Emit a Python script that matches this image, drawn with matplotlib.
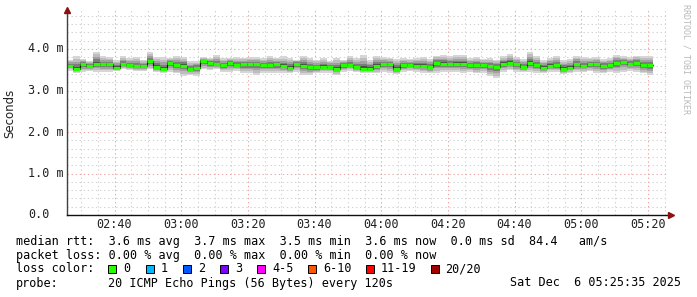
import numpy as np
import matplotlib
matplotlib.use("Agg")
import matplotlib.pyplot as plt
from matplotlib.lines import Line2D
from matplotlib.patches import Rectangle
from matplotlib.transforms import blended_transform_factory

# -- data: 2 min steps, values in ms --
med = [3.60, 3.52, 3.63, 3.59, 3.65, 3.63, 3.63, 3.55, 3.64, 3.61,
       3.59, 3.59, 3.71, 3.57, 3.52, 3.66, 3.61, 3.60, 3.52, 3.55,
       3.71, 3.66, 3.63, 3.61, 3.66, 3.61, 3.63, 3.63, 3.63, 3.61,
       3.61, 3.63, 3.59, 3.55, 3.65, 3.60, 3.56, 3.56, 3.57, 3.57,
       3.53, 3.61, 3.61, 3.56, 3.53, 3.53, 3.59, 3.64, 3.64, 3.52,
       3.61, 3.61, 3.60, 3.60, 3.57, 3.66, 3.65, 3.64, 3.64, 3.64,
       3.61, 3.61, 3.61, 3.59, 3.57, 3.65, 3.67, 3.63, 3.57, 3.67,
       3.61, 3.55, 3.60, 3.61, 3.53, 3.55, 3.63, 3.59, 3.63, 3.63,
       3.59, 3.61, 3.66, 3.69, 3.65, 3.66, 3.61, 3.61]
smoke_hi = [3.74, 3.83, 3.76, 3.72, 3.93, 3.82, 3.81, 3.74, 3.82, 3.78,
            3.80, 3.74, 3.92, 3.80, 3.80, 3.78, 3.82, 3.81, 3.70, 3.70,
            3.80, 3.78, 3.85, 3.78, 3.78, 3.81, 3.78, 3.81, 3.80, 3.78,
            3.82, 3.78, 3.82, 3.78, 3.74, 3.82, 3.78, 3.74, 3.78, 3.72,
            3.78, 3.74, 3.82, 3.78, 3.85, 3.74, 3.84, 3.80, 3.78, 3.76,
            3.78, 3.76, 3.78, 3.80, 3.76, 3.84, 3.86, 3.82, 3.86, 3.86,
            3.78, 3.80, 3.76, 3.78, 3.74, 3.82, 3.88, 3.80, 3.76, 3.93,
            3.84, 3.74, 3.78, 3.82, 3.74, 3.76, 3.84, 3.80, 3.78, 3.80,
            3.76, 3.78, 3.86, 3.82, 3.80, 3.84, 3.84, 3.84]
smoke_lo = [3.48, 3.42, 3.45, 3.48, 3.45, 3.45, 3.45, 3.48, 3.51, 3.49,
            3.48, 3.48, 3.51, 3.45, 3.43, 3.45, 3.41, 3.35, 3.37, 3.35,
            3.51, 3.49, 3.51, 3.45, 3.45, 3.48, 3.41, 3.41, 3.37, 3.43,
            3.43, 3.41, 3.43, 3.41, 3.45, 3.37, 3.37, 3.41, 3.43, 3.43,
            3.37, 3.45, 3.48, 3.45, 3.41, 3.41, 3.41, 3.45, 3.43, 3.40,
            3.45, 3.47, 3.45, 3.43, 3.41, 3.43, 3.45, 3.45, 3.45, 3.43,
            3.45, 3.41, 3.43, 3.35, 3.30, 3.45, 3.49, 3.45, 3.45, 3.45,
            3.43, 3.41, 3.45, 3.45, 3.39, 3.43, 3.45, 3.45, 3.47, 3.43,
            3.41, 3.45, 3.43, 3.45, 3.47, 3.45, 3.41, 3.37]

# time in minutes after 02:00
t_start = 25 + 35 / 60          # 02:25:35
t_end = t_start + 180           # 05:25:35
step_min = 2
tick_minutes = [40, 60, 80, 100, 120, 140, 160, 180, 200]
tick_labels = ["02:40", "03:00", "03:20", "03:40", "04:00", "04:20", "04:40", "05:00", "05:20"]
y_ticks = [0, 1, 2, 3, 4]
y_labels = ["0.0", "1.0 m", "2.0 m", "3.0 m", "4.0 m"]

legend_lines = [
    "median rtt:  3.6 ms avg  3.7 ms max  3.5 ms min  3.6 ms now  0.0 ms sd  84.4   am/s",
    "packet loss: 0.00 % avg  0.00 % max  0.00 % min  0.00 % now",
]
loss_labels = ["0", "1", "2", "3", "4-5", "6-10", "11-19", "20/20"]
loss_colors = ["#26ff00", "#00b8ff", "#0059ff", "#7e00ff", "#ff00ff", "#ff5500", "#ff0000", "#a10000"]
probe_text = "20 ICMP Echo Pings (56 Bytes) every 120s"
date_text = "Sat Dec  6 05:25:35 2025"

W, H = 697, 297
MONO = "DejaVu Sans Mono"
FS = 8.5

def fx(x):
    return x / W

def fy(y):
    return 1 - y / H

fig = plt.figure(figsize=(W / 100, H / 100), dpi=100)
fig.patch.set_facecolor("white")
ax = fig.add_axes([fx(66.5), fy(215), 600 / W, 205 / H])
ax.set_xlim(t_start, t_end)
ax.set_ylim(0, 205 / 41.5)
for s in ax.spines.values():
    s.set_visible(False)
ax.set_xticks([])
ax.set_yticks([])

# grid
dots = (0, (1.3, 2.6))
for m in np.arange(30, 206, 5):
    if m not in tick_minutes:
        ax.axvline(m, color="#d2d2d2", lw=0.75, ls=dots, zorder=0)
for v in np.arange(0.2, 4.95, 0.2):
    if abs(v - round(v)) > 0.01:
        ax.axhline(v, color="#d2d2d2", lw=0.75, ls=dots, zorder=0)
for m in tick_minutes:
    ax.axvline(m, color="#eaa8a8", lw=0.75, ls=dots, zorder=0)
for v in y_ticks[1:]:
    ax.axhline(v, color="#eaa8a8", lw=0.75, ls=dots, zorder=0)

# smoke + median
n = len(med)
edges = t_start + step_min * np.arange(n + 1)
med_a = np.array(med + [med[-1]])
hi_a = np.array(smoke_hi + [smoke_hi[-1]])
lo_a = np.array(smoke_lo + [smoke_lo[-1]])
layers = [(1.0, "#d6d6d6"), (0.78, "#bdbdbd"), (0.56, "#a0a0a0"),
          (0.36, "#7c7c7c"), (0.16, "#4a4a4a")]
for f, c in layers:
    ax.fill_between(edges, med_a - (med_a - lo_a) * f, med_a + (hi_a - med_a) * f,
                    step="post", color=c, lw=0, zorder=2)
ax.step(edges, med_a, where="post", color="#101010", lw=0.8, zorder=3)
ax.hlines(med, edges[:-1], edges[1:], color="#26ff00", lw=2.3, zorder=4)

# axes lines and arrows
axis_col = "#404040"
arrow_col = "#8b1010"
fig.add_artist(Line2D([fx(66.5), fx(66.5)], [fy(215), fy(11)], color=axis_col, lw=1.0))
fig.add_artist(Line2D([fx(66.5), fx(669)], [fy(215), fy(215)], color="#101010", lw=1.0))
fig.add_artist(Line2D([fx(66.5)], [fy(10)], marker="^", ms=4, color=arrow_col, mec=arrow_col))
fig.add_artist(Line2D([fx(671)], [fy(215)], marker=">", ms=4, color=arrow_col, mec=arrow_col))

# tick labels
tr_x = blended_transform_factory(ax.transData, fig.transFigure)
for m, lab in zip(tick_minutes, tick_labels):
    ax.text(m, fy(224), lab, transform=tr_x, ha="center", va="center",
            family=MONO, fontsize=FS, color="#202020")
tr_y = blended_transform_factory(fig.transFigure, ax.transData)
for v, lab in zip(y_ticks, y_labels):
    ax.text(fx(28), v, lab, transform=tr_y, ha="left", va="center",
            family=MONO, fontsize=FS, color="#202020")

fig.text(fx(10), fy(113), "Seconds", rotation=90, ha="center", va="center",
         family="DejaVu Sans", fontsize=8.5, color="#202020")
fig.text(fx(686), fy(4), "RRDTOOL / TOBI OETIKER", rotation=270, ha="center", va="top",
         family=MONO, fontsize=6, color="#b8b8b8")

# legend block
fig.text(fx(16), fy(241), legend_lines[0], ha="left", va="center", family=MONO, fontsize=FS)
fig.text(fx(16), fy(255), legend_lines[1], ha="left", va="center", family=MONO, fontsize=FS)
fig.text(fx(16), fy(269), "loss color:", ha="left", va="center", family=MONO, fontsize=FS)
box_x = [108, 145.5, 182.5, 220, 257, 308, 366, 431]
lab_x = [123, 161, 198.5, 235, 272.5, 323, 380.5, 445.5]
for bx, lx, lab, col in zip(box_x, lab_x, loss_labels, loss_colors):
    fig.add_artist(Rectangle((fx(bx), fy(273)), 8 / W, 8 / H, transform=fig.transFigure,
                             facecolor=col, edgecolor="black", lw=0.7))
    fig.text(fx(lx), fy(269), lab, ha="left", va="center", family=MONO, fontsize=FS)
fig.text(fx(16), fy(283), "probe:", ha="left", va="center", family=MONO, fontsize=FS)
fig.text(fx(108), fy(283), probe_text, ha="left", va="center", family=MONO, fontsize=FS)
fig.text(fx(681), fy(283), date_text, ha="right", va="center", family=MONO, fontsize=FS)

fig.savefig("out.png", dpi=100)
